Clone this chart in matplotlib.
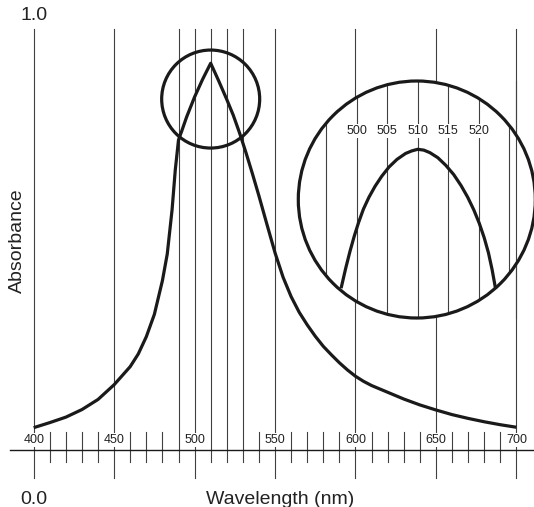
import matplotlib
matplotlib.use("Agg")
import matplotlib.pyplot as plt
import matplotlib.transforms as mtransforms
from matplotlib.patches import Circle

plt.rcParams['font.family'] = ['Liberation Sans', 'DejaVu Sans']

# absorbance spectrum
wavelength = [400, 410, 420, 430, 440, 450, 460, 465, 470, 475, 480, 483, 486, 488,
              490, 492, 495, 500, 505, 510, 515, 520, 524, 528, 532, 536, 540,
              545, 550, 555, 560, 565, 570, 575, 580, 585, 590, 595, 600, 605, 610,
              620, 630, 640, 650, 660, 670, 680, 690, 700]
absorbance = [0.053, 0.065, 0.078, 0.096, 0.120, 0.155, 0.198, 0.228, 0.269, 0.322,
              0.402, 0.465, 0.570, 0.665, 0.736, 0.757, 0.790, 0.838, 0.880, 0.918,
              0.876, 0.832, 0.795, 0.752, 0.705, 0.655, 0.603, 0.535, 0.468,
              0.410, 0.364, 0.327, 0.297, 0.270, 0.246, 0.226, 0.207, 0.190, 0.175,
              0.163, 0.153, 0.137, 0.121, 0.107, 0.095, 0.084, 0.075, 0.067, 0.060,
              0.054]

# magnified view of the peak (inside the big circle)
zoom_wavelength = [497.5, 498.2, 498.9, 499.6, 500.3, 501.1, 502.0, 503.0, 504.1,
                   505.3, 506.6, 508.0, 509.0, 510.0, 511.0, 512.0, 513.3, 514.6,
                   515.9, 517.1, 518.2, 519.2, 520.1, 520.9, 521.6, 522.2, 522.7]
zoom_absorbance = [0.755, 0.777, 0.797, 0.815, 0.831, 0.847, 0.861, 0.874, 0.886,
                   0.897, 0.906, 0.913, 0.916, 0.918, 0.917, 0.914, 0.908, 0.899,
                   0.888, 0.875, 0.861, 0.846, 0.830, 0.813, 0.795, 0.775, 0.755]

ticks = list(range(400, 701, 10))
peak_lines = [490, 510, 520, 530]
zoom_lines = [495, 500, 505, 510, 515, 520, 525]
zoom_labels = [500, 505, 510, 515, 520]

ink = '#1a1a1a'
grid = '#404040'
W, H = 534, 507

fig = plt.figure(figsize=(W / 100, H / 100), dpi=100)
ax = fig.add_axes([0, 0, 1, 1])
ax.set_xlim(379.06, 710.94)
ax.set_ylim(-0.1353, 1.0681)
ax.axis('off')

for t in ticks:
    if t % 50 == 0:
        ax.plot([t, t], [-0.067, 1.0], color=grid, lw=0.8, zorder=1)
        ax.text(t, 0.0237, str(t), ha='center', va='center', fontsize=9, color='#222222',
                bbox=dict(fc='white', ec='none', pad=0.6), zorder=3)
    elif t in peak_lines:
        ax.plot([t, t], [-0.029, 1.0], color=grid, lw=0.8, zorder=1)
    else:
        ax.plot([t, t], [-0.029, 0.042], color=grid, lw=0.8, zorder=1)

ax.axhline(0, xmin=10 / W, xmax=1, color=ink, lw=1.0, zorder=2)
ax.plot(wavelength, absorbance, color=ink, lw=2.3, solid_joinstyle='round',
        solid_capstyle='butt', zorder=4)

# small circle around the peak
peak_trans = fig.dpi_scale_trans + mtransforms.ScaledTranslation(510, 0.833, ax.transData)
ax.add_patch(Circle((0, 0), 0.49, transform=peak_trans, fill=False, ec=ink, lw=2.3, zorder=5))

# magnified inset
r = 118.5
cx, cy = 416.8, 199.5
ax_in = fig.add_axes([(cx - r) / W, (H - cy - r) / H, 2 * r / W, 2 * r / H])
ax_in.axis('off')
ax_in.set_xlim(509.85 - r / 6.1, 509.85 + r / 6.1)
ax_in.set_ylim(0.8584 - r / 842.6, 0.8584 + r / 842.6)

disk = Circle((0.5, 0.5), 0.5, transform=ax_in.transAxes, fc='white', ec='none',
              clip_on=False, zorder=0)
ax_in.add_patch(disk)
for t in zoom_lines:
    ln, = ax_in.plot([t, t], [0.5, 1.2], color=grid, lw=0.8, zorder=1)
    ln.set_clip_path(disk)
ax_in.plot([700, 700], [0, 1], color=grid, lw=0.8, zorder=1, clip_on=False,
           transform=mtransforms.blended_transform_factory(ax.transData, ax_in.transAxes))
for t in zoom_labels:
    ax_in.text(t, 0.9397, str(t), ha='center', va='center', fontsize=9, color='#222222',
               bbox=dict(fc='white', ec='none', pad=0.6), zorder=3)
ax_in.plot(zoom_wavelength, zoom_absorbance, color=ink, lw=2.3, solid_joinstyle='round',
           zorder=2)
ax_in.add_patch(Circle((0.5, 0.5), 0.5, transform=ax_in.transAxes, fill=False, ec=ink,
                       lw=2.3, clip_on=False, zorder=4))

fig.text(34 / W, 1 - 16 / H, '1.0', ha='center', va='center', fontsize=14, color='#222222')
fig.text(34 / W, 1 - 499 / H, '0.0', ha='center', va='center', fontsize=14, color='#222222')
fig.text(280 / W, 1 - 499 / H, 'Wavelength (nm)', ha='center', va='center', fontsize=14,
         color='#222222')
fig.text(17 / W, 1 - 241 / H, 'Absorbance', ha='center', va='center', rotation=90,
         fontsize=14, color='#222222')

fig.savefig('out.png', dpi=100)
